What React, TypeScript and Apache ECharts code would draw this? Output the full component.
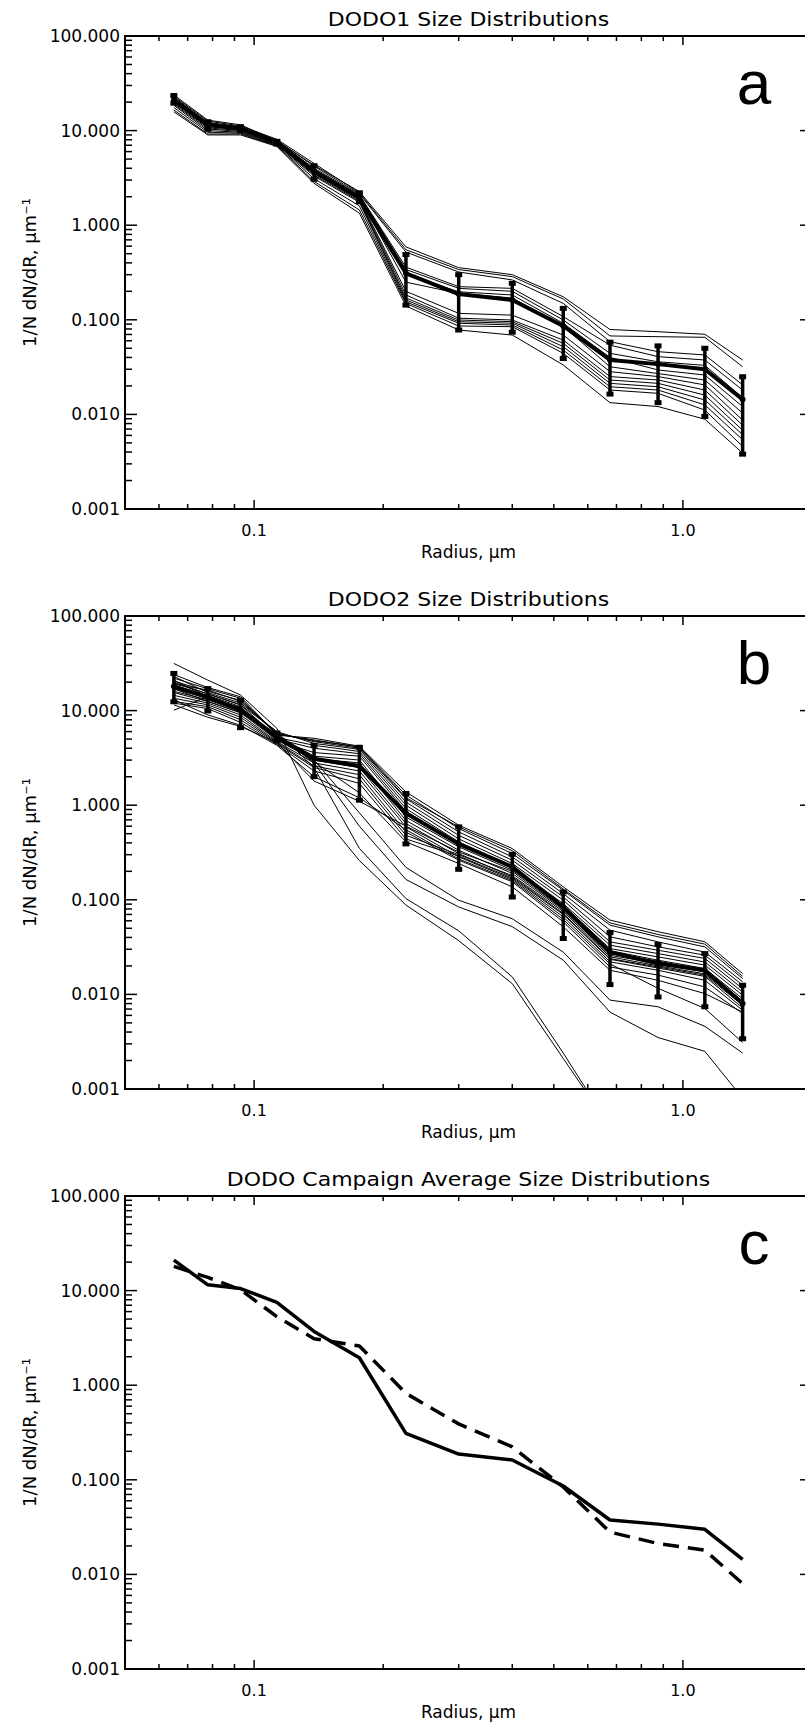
import React, { useEffect, useRef } from "react";
import * as echarts from "echarts";

// ---------- data ----------
const radii = [0.065, 0.078, 0.093, 0.113, 0.138, 0.176, 0.226, 0.3, 0.4, 0.526, 0.676, 0.875, 1.125, 1.378];

const dodo1Mean = [21.0, 11.5, 10.5, 7.5, 3.7, 1.95, 0.31, 0.187, 0.162, 0.086, 0.0376, 0.034, 0.03, 0.0144];
const dodo1ErrLow = [19.5, 10.3, 9.97, 7.2, 3.06, 1.77, 0.143, 0.078, 0.074, 0.039, 0.0164, 0.0133, 0.0095, 0.0038];
const dodo1ErrHigh = [23.5, 12.4, 11.0, 7.7, 4.25, 2.2, 0.49, 0.3, 0.243, 0.132, 0.058, 0.053, 0.05, 0.025];

const dodo1F01 = [23.8, 12.9, 11.5, 7.8, 4.3, 2.27, 0.59, 0.356, 0.3, 0.175, 0.079, 0.0748, 0.0703, 0.0376];
const dodo1F02 = [23.0, 12.6, 11.2, 8.1, 4.5, 2.2, 0.55, 0.34, 0.286, 0.166, 0.0675, 0.0663, 0.0653, 0.0319];
const dodo1F03 = [22.5, 12.2, 11.0, 7.9, 4.2, 2.15, 0.52, 0.32, 0.264, 0.149, 0.0587, 0.046, 0.0425, 0.0205];
const dodo1F04 = [22.0, 12.0, 10.8, 7.7, 4.0, 2.1, 0.36, 0.224, 0.215, 0.108, 0.054, 0.0408, 0.0376, 0.0181];
const dodo1F05 = [21.5, 11.8, 10.6, 7.6, 3.9, 2.05, 0.34, 0.215, 0.2, 0.0995, 0.0442, 0.036, 0.033, 0.015];
const dodo1F06 = [21.0, 11.5, 10.5, 7.5, 3.8, 2.0, 0.3, 0.198, 0.183, 0.0918, 0.04, 0.0295, 0.0261, 0.0121];
const dodo1F07 = [20.5, 11.2, 10.4, 7.4, 3.7, 1.95, 0.25, 0.19, 0.17, 0.085, 0.0319, 0.027, 0.0231, 0.0103];
const dodo1F08 = [20.0, 11.0, 10.2, 7.5, 3.6, 1.9, 0.2, 0.117, 0.112, 0.069, 0.0283, 0.0251, 0.0205, 0.0087];
const dodo1F09 = [19.5, 10.7, 10.0, 7.3, 3.5, 1.85, 0.183, 0.104, 0.0995, 0.061, 0.0251, 0.0231, 0.0181, 0.0077];
const dodo1F10 = [19.0, 10.4, 9.8, 7.2, 3.4, 1.8, 0.17, 0.0995, 0.0955, 0.0564, 0.0231, 0.0213, 0.016, 0.0068];
const dodo1F11 = [18.5, 10.0, 9.6, 7.1, 3.3, 1.75, 0.162, 0.0955, 0.092, 0.052, 0.0213, 0.0196, 0.0142, 0.0061];
const dodo1F12 = [17.5, 9.6, 9.4, 7.0, 3.1, 1.6, 0.155, 0.092, 0.088, 0.0479, 0.0196, 0.0181, 0.0126, 0.0054];
const dodo1F13 = [16.5, 9.2, 9.2, 6.9, 2.9, 1.45, 0.149, 0.086, 0.0845, 0.0442, 0.0181, 0.0167, 0.0111, 0.0046];
const dodo1F14 = [15.8, 9.0, 9.0, 6.8, 2.77, 1.34, 0.14, 0.078, 0.069, 0.0333, 0.0133, 0.0121, 0.0089, 0.0039];

const dodo2Mean = [18.0, 13.8, 10.2, 5.3, 3.1, 2.6, 0.82, 0.39, 0.223, 0.084, 0.028, 0.0212, 0.018, 0.008];
const dodo2ErrLow = [12.4, 9.9, 6.6, 4.8, 2.0, 1.13, 0.39, 0.21, 0.107, 0.039, 0.0127, 0.0094, 0.0074, 0.0034];
const dodo2ErrHigh = [24.7, 17.1, 12.9, 5.8, 4.3, 4.1, 1.33, 0.59, 0.303, 0.121, 0.045, 0.0337, 0.027, 0.0125];

const dodo2F01 = [22.0, 17.0, 13.5, 5.5, 5.1, 4.2, 1.38, 0.615, 0.348, 0.137, 0.061, 0.046, 0.036, 0.0166];
const dodo2F02 = [24.0, 17.5, 14.0, 5.6, 4.9, 4.1, 1.28, 0.567, 0.308, 0.126, 0.054, 0.0406, 0.0318, 0.0147];
const dodo2F03 = [20.5, 16.0, 12.8, 5.8, 4.7, 4.0, 1.17, 0.522, 0.284, 0.116, 0.0478, 0.0359, 0.028, 0.0136];
const dodo2F04 = [23.0, 15.5, 12.0, 6.0, 4.5, 3.9, 1.08, 0.48, 0.262, 0.107, 0.0406, 0.0318, 0.026, 0.0125];
const dodo2F05 = [19.5, 15.0, 11.5, 5.2, 4.3, 3.7, 1.0, 0.44, 0.242, 0.099, 0.0359, 0.0293, 0.024, 0.0115];
const dodo2F06 = [18.5, 14.5, 11.0, 5.0, 4.0, 3.5, 0.92, 0.41, 0.223, 0.091, 0.0331, 0.027, 0.022, 0.0106];
const dodo2F07 = [21.0, 14.0, 10.5, 4.8, 3.6, 3.3, 0.86, 0.4, 0.215, 0.087, 0.0305, 0.0249, 0.0204, 0.0098];
const dodo2F08 = [17.0, 13.5, 10.8, 5.4, 3.3, 3.0, 0.75, 0.363, 0.206, 0.084, 0.029, 0.023, 0.0188, 0.009];
const dodo2F09 = [16.0, 13.0, 9.8, 5.1, 3.1, 2.8, 0.69, 0.334, 0.19, 0.078, 0.0259, 0.0212, 0.0173, 0.0083];
const dodo2F10 = [15.5, 12.5, 9.5, 4.9, 3.0, 2.5, 0.64, 0.308, 0.175, 0.0716, 0.0239, 0.0195, 0.016, 0.0077];
const dodo2F11 = [14.5, 12.0, 9.0, 4.7, 2.8, 2.3, 0.59, 0.284, 0.165, 0.066, 0.0221, 0.018, 0.0141, 0.0068];
const dodo2F12 = [13.5, 11.5, 8.5, 4.6, 2.6, 2.1, 0.52, 0.262, 0.155, 0.0585, 0.0195, 0.016, 0.012, 0.0063];
const dodo2F13 = [12.5, 11.0, 8.0, 4.5, 2.5, 1.9, 0.48, 0.3, 0.18, 0.075, 0.025, 0.02, 0.0165, 0.008];
const dodo2F14 = [12.0, 10.5, 7.5, 4.4, 2.3, 1.7, 0.44, 0.29, 0.17, 0.07, 0.0235, 0.019, 0.0155, 0.0072];
const dodo2F15 = [10.1, 14.0, 9.8, 5.2, 2.9, 1.35, 0.41, 0.242, 0.137, 0.0518, 0.018, 0.0141, 0.0102, 0.0065];
const dodo2F16 = [13.0, 9.0, 7.0, 4.3, 2.0, 1.2, 0.55, 0.27, 0.16, 0.062, 0.021, 0.0116, 0.0071, 0.0031];
const dodo2F17 = [11.5, 8.5, 6.8, 4.6, 1.8, 1.1, 0.6, 0.32, 0.2, 0.08, 0.027, 0.0225, 0.018, 0.0085];
const dodo2F18 = [19.0, 16.5, 12.5, 5.7, 4.8, 4.15, 1.2, 0.59, 0.33, 0.13, 0.057, 0.043, 0.034, 0.0155];
const dodo2F19 = [31.5, 21.0, 14.6, 6.5, 1.0, 0.26, 0.088, 0.037, 0.013, 0.0021, 0.0004];
const dodo2F20 = [20.0, 15.0, 11.5, 6.0, 2.5, 0.35, 0.103, 0.047, 0.0153, 0.0024, 0.0004];
const dodo2F21 = [18.0, 13.5, 10.0, 5.0, 3.0, 0.83, 0.22, 0.099, 0.063, 0.028, 0.0087, 0.0074, 0.0046, 0.0024];
const dodo2F22 = [17.0, 12.5, 9.5, 5.5, 2.8, 0.6, 0.164, 0.084, 0.052, 0.023, 0.0065, 0.0035, 0.0025, 0.0008];

const dodo1Flights = [dodo1F01, dodo1F02, dodo1F03, dodo1F04, dodo1F05, dodo1F06, dodo1F07, dodo1F08, dodo1F09, dodo1F10, dodo1F11, dodo1F12, dodo1F13, dodo1F14];
const dodo2Flights = [dodo2F01, dodo2F02, dodo2F03, dodo2F04, dodo2F05, dodo2F06, dodo2F07, dodo2F08, dodo2F09, dodo2F10, dodo2F11, dodo2F12, dodo2F13, dodo2F14, dodo2F15, dodo2F16, dodo2F17, dodo2F18, dodo2F19, dodo2F20, dodo2F21, dodo2F22];

// ---------- axes / text ----------
const xMajorTicks = [0.1, 1.0];
const xMinorTicks = [0.06, 0.07, 0.08, 0.09, 0.2, 0.3, 0.4, 0.5, 0.6, 0.7, 0.8, 0.9];
const xTickLabels = ["0.1", "1.0"];
const yMajorTicks = [0.001, 0.01, 0.1, 1, 10, 100];
const yMinorTicks = [
  0.002, 0.003, 0.004, 0.005, 0.006, 0.007, 0.008, 0.009,
  0.02, 0.03, 0.04, 0.05, 0.06, 0.07, 0.08, 0.09,
  0.2, 0.3, 0.4, 0.5, 0.6, 0.7, 0.8, 0.9,
  2, 3, 4, 5, 6, 7, 8, 9,
  20, 30, 40, 50, 60, 70, 80, 90,
];
const yTickLabels = ["0.001", "0.010", "0.100", "1.000", "10.000", "100.000"];
const panelTitles = ["DODO1 Size Distributions", "DODO2 Size Distributions", "DODO Campaign Average Size Distributions"];
const panelLetters = ["a", "b", "c"];
const xAxisName = "Radius, \u03bcm";
const yAxisName = "1/N dN/dR, \u03bcm\u207b\u00b9";

// ---------- layout ----------
const W = 805;
const H = 1724;
const GRID_LEFT = 125;
const GRID_WIDTH = 687;
const GRID_HEIGHT = 473;
const GRID_TOPS = [36, 616, 1196];
const FONT = "DejaVu Sans";

function pick(v: number, ticks: number[], labels: string[]) {
  for (let i = 0; i < ticks.length; i++) {
    if (Math.abs(Math.log10(v) - Math.log10(ticks[i])) < 1e-4) return labels[i];
  }
  return "";
}

function pairs(vals: number[]) {
  return vals.map((v, i) => [radii[i], v]);
}

const renderTicks = (params: any, api: any) => {
  const cs = params.coordSys;
  const p = api.coord([api.value(0), api.value(1)]);
  const kind = api.value(2);
  const len = api.value(3);
  let shape;
  if (kind === 0) shape = { x1: p[0], y1: cs.y + cs.height, x2: p[0], y2: cs.y + cs.height - len };
  else if (kind === 1) shape = { x1: p[0], y1: cs.y, x2: p[0], y2: cs.y + len };
  else if (kind === 2) shape = { x1: cs.x, y1: p[1], x2: cs.x + len, y2: p[1] };
  else shape = { x1: cs.x + cs.width, y1: p[1], x2: cs.x + cs.width - len, y2: p[1] };
  return { type: "line", shape, style: { stroke: "#000", lineWidth: 1.5 } };
};

const renderErr = (params: any, api: any) => {
  const x = api.value(0);
  const lo = api.coord([x, api.value(1)]);
  const hi = api.coord([x, api.value(2)]);
  const w = 7;
  const h = 5;
  return {
    type: "group",
    children: [
      { type: "line", shape: { x1: lo[0], y1: lo[1], x2: hi[0], y2: hi[1] }, style: { stroke: "#000", lineWidth: 3.5 } },
      { type: "rect", shape: { x: lo[0] - w / 2, y: lo[1] - h / 2, width: w, height: h }, style: { fill: "#000" } },
      { type: "rect", shape: { x: hi[0] - w / 2, y: hi[1] - h / 2, width: w, height: h }, style: { fill: "#000" } },
    ],
  };
};

function tickData() {
  const d: number[][] = [];
  xMajorTicks.forEach((v) => { d.push([v, 1, 0, 9]); d.push([v, 1, 1, 9]); });
  xMinorTicks.forEach((v) => { d.push([v, 1, 0, 5]); d.push([v, 1, 1, 5]); });
  yMajorTicks.forEach((v) => { d.push([1, v, 2, 12]); d.push([1, v, 3, 12]); });
  yMinorTicks.forEach((v) => { d.push([1, v, 2, 7]); d.push([1, v, 3, 7]); });
  return d;
}

function buildOption() {
  const grid: any[] = [];
  const xAxis: any[] = [];
  const yAxis: any[] = [];
  const series: any[] = [];
  const graphic: any[] = [];

  GRID_TOPS.forEach((top, i) => {
    grid.push({ left: GRID_LEFT, top, width: GRID_WIDTH, height: GRID_HEIGHT, containLabel: false, outerBoundsMode: "none", show: false });
    const axLine = { show: true, onZero: false, lineStyle: { color: "#000", width: 2 } };
    xAxis.push({
      type: "log", logBase: 10, gridIndex: i, position: "bottom", min: 0.05, max: 2,
      axisLine: axLine, axisTick: { show: false }, splitLine: { show: false }, minorTick: { show: false },
      axisLabel: { color: "#000", fontSize: 16, fontFamily: FONT, margin: 13, formatter: (v: number) => pick(v, xMajorTicks, xTickLabels) },
      name: xAxisName, nameLocation: "middle", nameGap: 34,
      nameTextStyle: { color: "#000", fontSize: 17, fontFamily: FONT },
    });
    xAxis.push({
      type: "log", logBase: 10, gridIndex: i, position: "top", min: 0.05, max: 2,
      axisLine: axLine, axisTick: { show: false }, splitLine: { show: false }, axisLabel: { show: false },
    });
    yAxis.push({
      type: "log", logBase: 10, gridIndex: i, position: "left", min: 0.001, max: 100,
      axisLine: axLine, axisTick: { show: false }, splitLine: { show: false }, minorTick: { show: false },
      axisLabel: { color: "#000", fontSize: 17, fontFamily: FONT, margin: 5, formatter: (v: number) => pick(v, yMajorTicks, yTickLabels) },
      name: yAxisName, nameLocation: "middle", nameRotate: 90, nameGap: 84,
      nameTextStyle: { color: "#000", fontSize: 18, fontFamily: FONT },
    });
    yAxis.push({
      type: "log", logBase: 10, gridIndex: i, position: "right", min: 0.001, max: 100,
      axisLine: axLine, axisTick: { show: false }, splitLine: { show: false }, axisLabel: { show: false },
    });

    const xi = i * 2;
    const yi = i * 2;
    series.push({
      type: "custom", name: "ticks" + i, xAxisIndex: xi, yAxisIndex: yi, silent: true, clip: false, z: 5,
      encode: { x: 0, y: 1 }, renderItem: renderTicks, data: tickData(),
    });

    const thinLine = (vals: number[], k: number) => ({
      type: "line", name: `p${i}f${k}`, xAxisIndex: xi, yAxisIndex: yi, data: pairs(vals), showSymbol: false,
      symbol: "none", silent: true, clip: true, z: 2, lineStyle: { color: "#000", width: 1 },
    });

    if (i < 2) {
      const flights = i === 0 ? dodo1Flights : dodo2Flights;
      const mean = i === 0 ? dodo1Mean : dodo2Mean;
      const lo = i === 0 ? dodo1ErrLow : dodo2ErrLow;
      const hi = i === 0 ? dodo1ErrHigh : dodo2ErrHigh;
      flights.forEach((f, k) => series.push(thinLine(f, k)));
      series.push({
        type: "line", name: `mean${i}`, xAxisIndex: xi, yAxisIndex: yi, data: pairs(mean), showSymbol: true,
        symbol: "circle", symbolSize: 6, itemStyle: { color: "#000" }, silent: true, clip: true, z: 3,
        lineStyle: { color: "#000", width: 4 },
      });
      series.push({
        type: "custom", name: `err${i}`, xAxisIndex: xi, yAxisIndex: yi, silent: true, clip: true, z: 4,
        encode: { x: 0, y: [1, 2] }, renderItem: renderErr,
        data: radii.map((r, k) => [r, lo[k], hi[k]]),
      });
    } else {
      series.push({
        type: "line", name: "DODO1 mean", xAxisIndex: xi, yAxisIndex: yi, data: pairs(dodo1Mean), showSymbol: false,
        symbol: "none", silent: true, clip: true, z: 3, lineStyle: { color: "#000", width: 3.5 },
      });
      series.push({
        type: "line", name: "DODO2 mean", xAxisIndex: xi, yAxisIndex: yi, data: pairs(dodo2Mean), showSymbol: false,
        symbol: "none", silent: true, clip: true, z: 3, lineStyle: { color: "#000", width: 3.5, type: [16, 9] },
      });
    }

    graphic.push({
      type: "text", x: GRID_LEFT + (W + 7 - GRID_LEFT) / 2, y: top - 17, scaleX: 1.1, silent: true,
      style: { text: panelTitles[i], fill: "#000", font: `20px '${FONT}'`, textAlign: "center", textVerticalAlign: "middle", verticalAlign: "middle" },
    });
    graphic.push({
      type: "text", x: 754, y: top + 77, silent: true,
      style: { text: panelLetters[i], fill: "#000", font: "62px 'Liberation Sans'", textAlign: "center", textVerticalAlign: "bottom", verticalAlign: "bottom" },
    });
  });

  return {
    animation: false,
    backgroundColor: "#fff",
    grid,
    xAxis,
    yAxis,
    series,
    graphic,
  };
}

export default function App() {
  const ref = useRef<HTMLDivElement>(null);
  useEffect(() => {
    if (!ref.current) return;
    const chart = echarts.init(ref.current, null, { renderer: "svg" });
    chart.setOption(buildOption() as any);
    return () => chart.dispose();
  }, []);
  return <div ref={ref} style={{ position: "absolute", left: 0, top: 0, width: W, height: H, background: "#fff" }} />;
}
